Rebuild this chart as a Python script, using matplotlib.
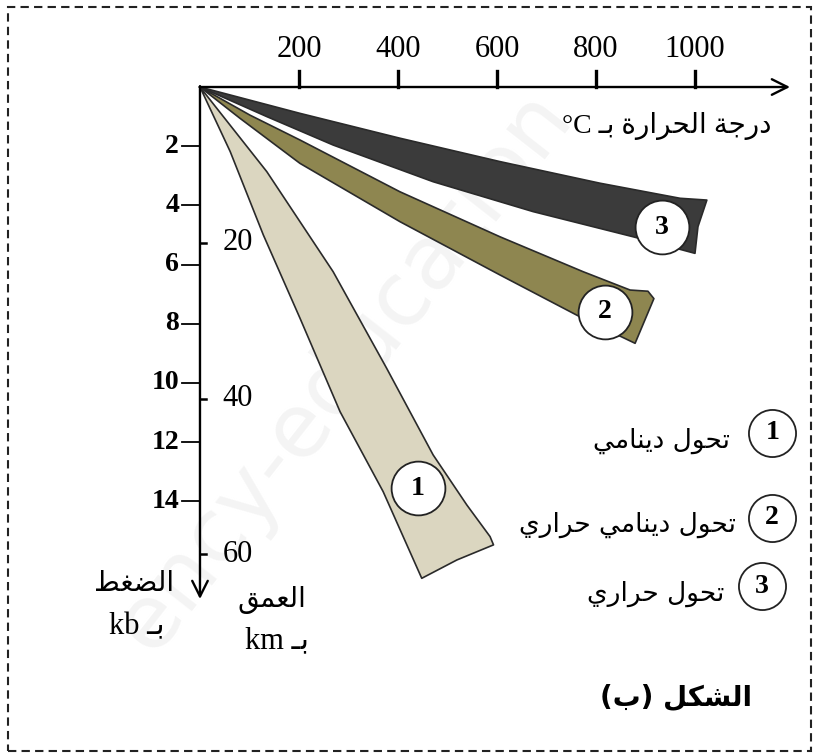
import matplotlib.pyplot as plt
from matplotlib.patches import Polygon, Rectangle

# band outlines, (temperature in C, pressure in kb)
band3_T = [0, 202, 404, 606, 808, 970, 1024, 1006, 1000, 875, 673, 471, 269, 135]
band3_P = [0, 0.89, 1.73, 2.52, 3.25, 3.76, 3.82, 4.72, 5.62, 5.06, 4.21, 3.20, 1.96, 1.00]

band2_T = [0, 101, 202, 404, 606, 774, 869, 905, 917, 879, 774, 606, 404, 202, 81]
band2_P = [0, 0.95, 1.79, 3.54, 5.06, 6.24, 6.86, 6.90, 7.15, 8.66, 7.82, 6.35, 4.55, 2.58, 1.06]

band1_T = [0, 135, 269, 377, 471, 539, 586, 593, 519, 448, 370, 283, 202, 128, 61]
band1_P = [0, 2.86, 6.24, 9.50, 12.43, 14.12, 15.19, 15.47, 15.98, 16.60, 13.67, 10.97, 7.81, 5.00, 2.18]

temp_ticks = [200, 400, 600, 800, 1000]
pres_ticks = [2, 4, 6, 8, 10, 12, 14]
depth_ticks = [20, 40, 60]
KM_PER_KB = 3.8

band_colors = ['#dbd6c0', '#8e8650', '#3b3b3b']

# arabic presentation forms: isolated, final, initial, medial
FORMS = {
    'ا': (0xFE8D, 0xFE8E), 'ب': (0xFE8F, 0xFE90, 0xFE91, 0xFE92),
    'ة': (0xFE93, 0xFE94), 'ت': (0xFE95, 0xFE96, 0xFE97, 0xFE98),
    'ج': (0xFE9D, 0xFE9E, 0xFE9F, 0xFEA0), 'ح': (0xFEA1, 0xFEA2, 0xFEA3, 0xFEA4),
    'د': (0xFEA9, 0xFEAA), 'ر': (0xFEAD, 0xFEAE),
    'ش': (0xFEB5, 0xFEB6, 0xFEB7, 0xFEB8), 'ض': (0xFEBD, 0xFEBE, 0xFEBF, 0xFEC0),
    'ط': (0xFEC1, 0xFEC2, 0xFEC3, 0xFEC4), 'ع': (0xFEC9, 0xFECA, 0xFECB, 0xFECC),
    'غ': (0xFECD, 0xFECE, 0xFECF, 0xFED0), 'ق': (0xFED5, 0xFED6, 0xFED7, 0xFED8),
    'ك': (0xFED9, 0xFEDA, 0xFEDB, 0xFEDC), 'ل': (0xFEDD, 0xFEDE, 0xFEDF, 0xFEE0),
    'م': (0xFEE1, 0xFEE2, 0xFEE3, 0xFEE4), 'ن': (0xFEE5, 0xFEE6, 0xFEE7, 0xFEE8),
    'و': (0xFEED, 0xFEEE), 'ي': (0xFEF1, 0xFEF2, 0xFEF3, 0xFEF4),
}
MIRROR = {'(': ')', ')': '('}


def is_ar(c):
    return c == 'ـ' or c in FORMS


def joins_next(c):
    return c == 'ـ' or (c in FORMS and len(FORMS[c]) == 4)


def shape_word(w):
    out = []
    for i, ch in enumerate(w):
        prev = w[i - 1] if i else ''
        nxt = w[i + 1] if i + 1 < len(w) else ''
        if ch not in FORMS:
            out.append(MIRROR.get(ch, ch))
            continue
        jp = joins_next(prev)
        jn = joins_next(ch) and is_ar(nxt)
        f = FORMS[ch]
        if len(f) == 2:
            out.append(chr(f[1] if jp else f[0]))
        else:
            out.append(chr(f[3] if jp and jn else f[1] if jp else f[2] if jn else f[0]))
    return ''.join(reversed(out))


def ar(text):
    # shape, then lay out right-to-left
    return ' '.join(shape_word(w) for w in reversed(text.split(' ')))


SERIF = ['Liberation Serif', 'DejaVu Sans']
ARAB = ['DejaVu Sans']

fig = plt.figure(figsize=(8.17, 7.55), dpi=100)
ax = fig.add_axes([0, 0, 1, 1])
ax.set_xlim(-404.0, 1246.5)
ax.set_ylim(22.57, -2.94)
ax.axis('off')

# watermark
ax.text(290, 9.6, 'ency-education', fontsize=64, color='#f4f4f4', rotation=52,
        ha='center', va='center', family='DejaVu Sans', zorder=0)

# dashed frame
fig.patches.append(Rectangle((8 / 817, 4 / 755), 803 / 817, 744 / 755, transform=fig.transFigure,
                             fill=False, ec='#222222', lw=1.5, ls=(0, (4, 2.5))))

for T, P, c in zip([band1_T, band2_T, band3_T], [band1_P, band2_P, band3_P], band_colors):
    ax.add_patch(Polygon(list(zip(T, P)), closed=True, fc=c, ec='#2a2a2a', lw=1.2,
                         joinstyle='round', zorder=2))

# axes with arrows
arrow = dict(arrowstyle='->', lw=1.7, color='black', mutation_scale=28, shrinkA=0, shrinkB=0)
ax.annotate('', xy=(1192, 0), xytext=(-1, 0), arrowprops=arrow, zorder=3)
ax.annotate('', xy=(0, 17.3), xytext=(0, -0.03), arrowprops=arrow, zorder=3)

for t in temp_ticks:
    ax.plot([t, t], [0, -0.55], color='black', lw=2.4, zorder=3)
    ax.text(t, -1.28, str(t), ha='center', va='center', fontsize=22, family=SERIF)
for p in pres_ticks:
    ax.plot([-36, 0], [p, p], color='black', lw=1.3, zorder=3)
    ax.text(-42, p, str(p), ha='right', va='center', fontsize=20, family=SERIF,
            fontweight='bold')
for d in depth_ticks:
    ax.plot([0, 13], [d / KM_PER_KB, d / KM_PER_KB], color='black', lw=1.8, zorder=3)
    ax.text(46, d / KM_PER_KB, str(d), ha='left', va='center', fontsize=22, family=SERIF)

# axis titles
ax.text(1154, 1.32, '°C ' + ar('درجة الحرارة بـ'), ha='right', va='center',
        fontsize=20, family=SERIF)
ax.text(-134, 16.75, ar('الضغط'), ha='center', va='center', fontsize=20, family=ARAB)
ax.text(-128, 18.25, 'kb ' + ar('بـ'), ha='center', va='center', fontsize=22, family=SERIF)
ax.text(146, 17.33, ar('العمق'), ha='center', va='center', fontsize=20, family=ARAB)
ax.text(156, 18.7, 'km ' + ar('بـ'), ha='center', va='center', fontsize=22, family=SERIF)

# circled numbers inside the bands
for num, (t, p) in zip(['1', '2', '3'], [(440, 13.55), (818, 7.6), (933, 4.73)]):
    ax.scatter([t], [p], s=1500, facecolor='white', edgecolor='#222222', lw=1.3, zorder=4)
    ax.text(t, p, num, ha='center', va='center', fontsize=20, family=SERIF,
            fontweight='bold', zorder=5)

# legend
legend_labels = ['تحول دينامي', 'تحول دينامي حراري', 'تحول حراري']
for num, lab, (t, p), tx in zip(['1', '2', '3'], legend_labels,
                                [(1156, 11.69), (1156, 14.56), (1135, 16.86)],
                                [1070, 1082, 1060]):
    ax.scatter([t], [p], s=1150, facecolor='white', edgecolor='#222222', lw=1.3,
               zorder=4, clip_on=False)
    ax.text(t, p, num, ha='center', va='center', fontsize=20, family=SERIF,
            fontweight='bold', zorder=5)
    ax.text(tx, p + 0.25, ar(lab), ha='right', va='center', fontsize=19, family=ARAB)

ax.text(962, 20.65, ar('الشكل (ب)'), ha='center', va='center', fontsize=20,
        family=ARAB, fontweight='bold')

fig.savefig('out.png', dpi=100)
